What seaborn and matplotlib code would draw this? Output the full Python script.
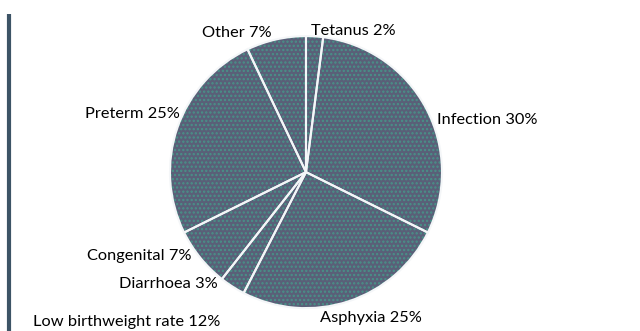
import matplotlib
matplotlib.use("Agg")
import matplotlib.pyplot as plt
import seaborn as sns
from matplotlib.lines import Line2D

# Causes of neonatal death, clockwise from 12 o'clock
causes = ["Tetanus", "Infection", "Asphyxia", "Diarrhoea", "Congenital", "Preterm", "Other"]
shares = [2, 30, 25, 3, 7, 25, 7]

# Separate figure shown below the pie (not a slice)
note_label = "Low birthweight rate"
note_value = 12

# Label anchors in pie data units (x, y, horizontal alignment)
label_pos = {
    "Tetanus":    (0.04, 1.04, "left"),
    "Infection":  (0.96, 0.38, "left"),
    "Asphyxia":   (0.48, -1.07, "center"),
    "Diarrhoea":  (-0.65, -0.82, "right"),
    "Congenital": (-0.84, -0.62, "right"),
    "Preterm":    (-0.93, 0.43, "right"),
    "Other":      (-0.25, 1.02, "right"),
}
note_pos = (-0.63, -1.10, "right")

sns.set_theme(style="white")
plt.rcParams["font.family"] = ["Lato", "DejaVu Sans"]
plt.rcParams["hatch.linewidth"] = 1.1

fig = plt.figure(figsize=(6.40, 3.31), dpi=100)
ax = fig.add_axes([0.2656, 0.069, 0.425, 0.822])

face = "#5a5f78"
dots = "#489288"

# textured fill
wedges, _ = ax.pie(shares, startangle=90, counterclock=False, radius=1.0,
                   colors=[face] * len(shares),
                   wedgeprops=dict(linewidth=0, edgecolor=dots, hatch="...."))
# white separators on top
ax.pie(shares, startangle=90, counterclock=False, radius=1.0,
       colors=["none"] * len(shares),
       wedgeprops=dict(linewidth=1.5, edgecolor="#f4f6f8", fill=False))

ax.set_xlim(-1, 1)
ax.set_ylim(-1, 1)
ax.set_aspect("equal")
ax.axis("off")

fs = 11.8
for name, val in zip(causes, shares):
    x, y, ha = label_pos[name]
    ax.text(x, y, f"{name} {val}%", ha=ha, va="center", fontsize=fs,
            color="black", clip_on=False)
x, y, ha = note_pos
ax.text(x, y, f"{note_label} {note_value}%", ha=ha, va="center", fontsize=fs,
        color="black", clip_on=False)

# vertical accent bar on the left edge
fig.add_artist(Line2D([9 / 640, 9 / 640], [0, 1 - 14 / 331],
                      transform=fig.transFigure, color="#3d5466",
                      linewidth=3.0, solid_capstyle="butt"))

fig.savefig("out.png", dpi=100, facecolor="white")
